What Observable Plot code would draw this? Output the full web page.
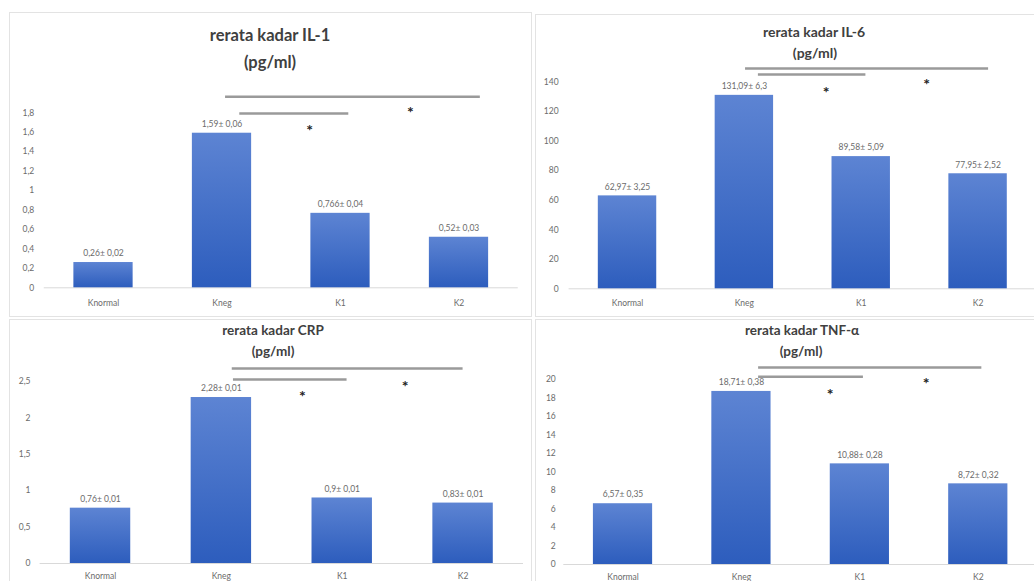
<!DOCTYPE html>
<html><head><meta charset="utf-8">
<script src="https://cdn.jsdelivr.net/npm/d3@7"></script>
<script src="https://cdn.jsdelivr.net/npm/@observablehq/plot@0.6"></script>
<style>
body{margin:0;background:#fff;font-family:Lato,sans-serif;}
#page{position:relative;width:1034px;height:581px;overflow:hidden;background:#fff}
.frame{position:absolute;border:1px solid #e3e3e3;box-sizing:border-box}
.title{position:absolute;transform:translate(-50%,-50%);font-weight:700;color:#404040;white-space:nowrap;line-height:1}
.chart{position:absolute}
</style></head><body>
<svg width="0" height="0" style="position:absolute">
  <defs>
    <linearGradient id="barGrad" x1="0" y1="0" x2="0" y2="1">
      <stop offset="0" stop-color="#5d84d3"/>
      <stop offset="1" stop-color="#2d5dbd"/>
    </linearGradient>
  </defs>
</svg>
<div id="page"></div>
<script>
// ---- data ----
const categories = ["Knormal", "Kneg", "K1", "K2"];

const il1Values = [0.26, 1.59, 0.766, 0.52];
const il1Labels = ["0,26± 0,02", "1,59± 0,06", "0,766± 0,04", "0,52± 0,03"];
const il1Ticks = [0, 0.2, 0.4, 0.6, 0.8, 1, 1.2, 1.4, 1.6, 1.8];
const il1Brackets = [{x1: 1.03, x2: 3.18, y: 1.964}, {x1: 1.15, x2: 2.07, y: 1.793}];
const il1Stars = [{x: 1.74, y: 1.657}, {x: 2.59, y: 1.838}];

const il6Values = [62.97, 131.09, 89.58, 77.95];
const il6Labels = ["62,97± 3,25", "131,09± 6,3", "89,58± 5,09", "77,95± 2,52"];
const il6Ticks = [0, 20, 40, 60, 80, 100, 120, 140];
const il6Brackets = [{x1: 1.01, x2: 3.09, y: 149.3}, {x1: 1.12, x2: 2.04, y: 145.2}];
const il6Stars = [{x: 1.70, y: 135.7}, {x: 2.56, y: 140.9}];

const crpValues = [0.76, 2.28, 0.9, 0.83];
const crpLabels = ["0,76± 0,01", "2,28± 0,01", "0,9± 0,01", "0,83± 0,01"];
const crpTicks = [0, 0.5, 1, 1.5, 2, 2.5];
const crpBrackets = [{x1: 1.09, x2: 3.0, y: 2.679}, {x1: 1.10, x2: 2.04, y: 2.527}];
const crpStars = [{x: 1.67, y: 2.349}, {x: 2.52, y: 2.486}];

const tnfValues = [6.57, 18.71, 10.88, 8.72];
const tnfLabels = ["6,57± 0,35", "18,71± 0,38", "10,88± 0,28", "8,72± 0,32"];
const tnfTicks = [0, 2, 4, 6, 8, 10, 12, 14, 16, 18, 20];
const tnfBrackets = [{x1: 1.145, x2: 3.03, y: 21.3}, {x1: 1.145, x2: 2.03, y: 20.3}];
const tnfStars = [{x: 1.75, y: 18.8}, {x: 2.56, y: 20.0}];

// ---- layout ----
const panels = [
  {title: "rerata kadar IL-1", tsize: 16.5, t1: [270, 35], t2: [270, 62],
   frame: [9, 12, 523, 305], svg: [9, 12, 511, 304], m: [100.3, 2.25, 28.7, 34.75], ymax: 1.8,
   tp: 10, xp: 12, values: il1Values, labels: il1Labels, ticks: il1Ticks, brackets: il1Brackets, stars: il1Stars},
  {title: "rerata kadar IL-6", tsize: 14, t1: [814, 32], t2: [815, 53],
   frame: [535, 14, 510, 303], svg: [534, 14, 502, 302], m: [67.7, 0, 27.7, 34.6], ymax: 140,
   tp: 10.5, xp: 11, values: il6Values, labels: il6Labels, ticks: il6Ticks, brackets: il6Brackets, stars: il6Stars},
  {title: "rerata kadar CRP", tsize: 13.5, t1: [273, 331], t2: [273, 352],
   frame: [9, 319, 523, 280], svg: [9, 320, 514, 261], m: [61, 0, 18, 30.6], ymax: 2.5,
   tp: 9.6, xp: 9, values: crpValues, labels: crpLabels, ticks: crpTicks, brackets: crpBrackets, stars: crpStars},
  {title: "rerata kadar TNF-α", tsize: 13.5, t1: [802, 331], t2: [801, 352],
   frame: [535, 319, 510, 280], svg: [534, 320, 503, 261], m: [59, 0, 17, 29.3], ymax: 20,
   tp: 8, xp: 9, values: tnfValues, labels: tnfLabels, ticks: tnfTicks, brackets: tnfBrackets, stars: tnfStars}
];

const page = document.getElementById("page");
const comma = d => String(d).replace(".", ",");

for (const p of panels) {
  const fr = document.createElement("div");
  fr.className = "frame";
  Object.assign(fr.style, {left: p.frame[0] + "px", top: p.frame[1] + "px", width: p.frame[2] + "px", height: p.frame[3] + "px"});
  page.appendChild(fr);

  const data = categories.map((c, i) => ({i, cat: c, value: p.values[i], label: p.labels[i]}));

  const chart = Plot.plot({
    width: p.svg[2], height: p.svg[3],
    marginTop: p.m[0], marginRight: p.m[1], marginBottom: p.m[2], marginLeft: p.m[3],
    x: {domain: [-0.5, 3.5], axis: null},
    y: {domain: [0, p.ymax], axis: null},
    style: {fontFamily: "Lato, sans-serif", background: "transparent", overflow: "visible"},
    marks: [
      Plot.ruleY([0], {stroke: "#d9d9d9", strokeWidth: 1}),
      Plot.rectY(data, {x1: d => d.i - 0.25, x2: d => d.i + 0.25, y1: 0, y2: "value", fill: "url(#barGrad)"}),
      Plot.text(data, {x: "i", y: "value", text: "label", dy: -9, fontSize: 8.5, fill: "#6b6b6b"}),
      Plot.axisY({ticks: p.ticks, tickSize: 0, tickPadding: p.tp, tickFormat: comma, fontSize: 8.5, color: "#6b6b6b", label: null}),
      Plot.axisX({ticks: [0, 1, 2, 3], tickSize: 0, tickPadding: p.xp, tickFormat: i => categories[i], fontSize: 8.5, color: "#6b6b6b", label: null}),
      Plot.ruleY(p.brackets, {x1: "x1", x2: "x2", y: "y", stroke: "#9a9a9a", strokeWidth: 2.5}),
      Plot.text(p.stars, {x: "x", y: "y", text: () => "*", fontSize: 16, fontWeight: "bold", fill: "#222", dy: 4})
    ]
  });
  chart.classList.add("chart");
  Object.assign(chart.style, {left: p.svg[0] + "px", top: p.svg[1] + "px"});
  page.appendChild(chart);

  for (const [txt, pos] of [[p.title, p.t1], ["(pg/ml)", p.t2]]) {
    const t = document.createElement("div");
    t.className = "title";
    t.textContent = txt;
    Object.assign(t.style, {left: pos[0] + "px", top: pos[1] + "px", fontSize: p.tsize + "px"});
    page.appendChild(t);
  }
}
</script>
</body></html>
